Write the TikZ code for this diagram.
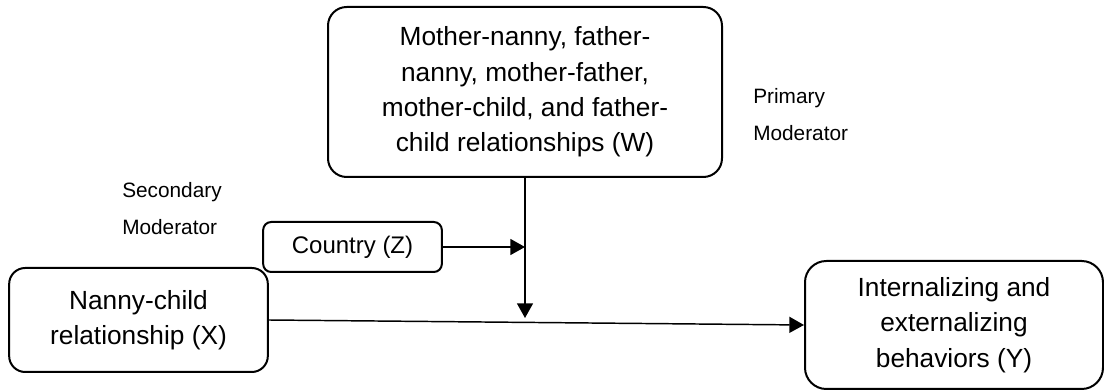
\documentclass[tikz,border=0pt]{standalone}
\usepackage{fontspec}
\setmainfont{Liberation Sans}
\usetikzlibrary{positioning}
\usetikzlibrary{arrows.meta}

\begin{document}
\begin{tikzpicture}[%
    x=0.75pt, y=-0.75pt,
    >={Triangle[length=11pt,width=12pt]},
relnode/.style={rectangle, rounded corners=14pt, align=center, draw=black, line width=1.5pt, inner sep=0pt, font=\fontsize{19.7}{26.5}\selectfont},
countrynode/.style={rectangle, rounded corners=6pt, align=center, draw=black, line width=1.5pt, inner sep=0pt, minimum width=134pt, minimum height=37.5pt, font=\fontsize{18}{22}\selectfont},
modtext/.style={align=left, inner sep=0pt, anchor=west, font=\fontsize{15.6}{27.75}\selectfont},
path/.style={line width=1.1pt}
]
\useasboundingbox (0,0) rectangle (1104,391);

% Moderator Nodes
\node[relnode, minimum width=295.5pt, minimum height=127.5pt] (parents) at (525,92) {Mother-nanny, father-\\nanny, mother-father,\\mother-child, and father-\\child relationships (W)};
\node[countrynode] (country) at (352.5,247) {Country (Z)};

% Predictor and Outcome Nodes
\node[relnode, rounded corners=12pt, minimum width=194pt, minimum height=78pt] (nannychild) at (138.5,320) {Nanny-child\\relationship (X)};
\node[relnode, rounded corners=16pt, minimum width=223.5pt, minimum height=96pt] (behaviors) at (954,325) {Internalizing and\\externalizing\\behaviors (Y)};

% Titles
\node[modtext] (primary) at (753,114.5) {Primary\\Moderator};
\node[modtext] (secondary) at (122,208.5) {Secondary\\Moderator};

% Lines
\coordinate (effect) at (525,318);
\draw[path, ->] (nannychild.east) -- (behaviors.west);
\draw[path, ->] (parents.south) -- (effect);
\draw[path, ->] (country.east) -- (country.east -| parents.south);

\end{tikzpicture}
\end{document}
